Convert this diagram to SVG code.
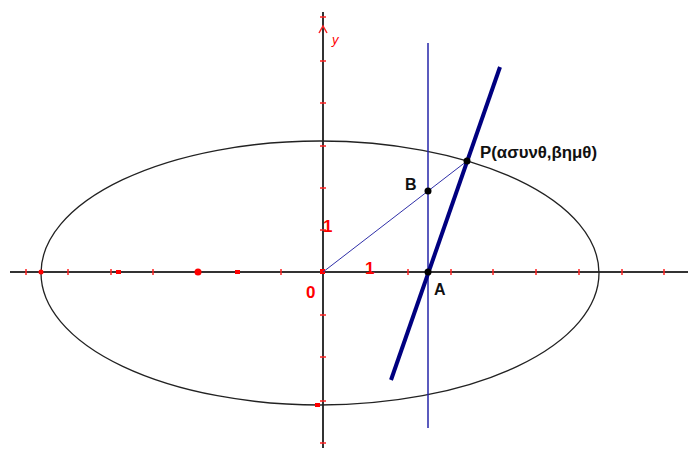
<svg xmlns="http://www.w3.org/2000/svg" width="688" height="459" viewBox="0 0 688 459">
<defs>
<style>
.axis{stroke:#333;stroke-width:2;fill:none}
.ell{stroke:#222;stroke-width:1.3;fill:none}
.tick{stroke:#f22;stroke-width:1.5}
.red{fill:#f00}
.lbl{font-family:"Liberation Sans",Arial,sans-serif;font-size:16px;font-weight:bold;fill:#111}
.rlbl{font-family:"Liberation Sans",Arial,sans-serif;font-size:17px;fill:#f00}
</style>
</defs>
<rect width="688" height="459" fill="#fff"/>
<g id="axes">
<line class="axis" x1="10" y1="272" x2="688" y2="272"/>
<line class="axis" x1="323" y1="12" x2="323" y2="448"/>
<g id="xticks">
<line class="tick" x1="26" y1="269" x2="26" y2="275"/>
<line class="tick" x1="68" y1="269" x2="68" y2="275"/>
<line class="tick" x1="111" y1="269" x2="111" y2="275"/>
<line class="tick" x1="153" y1="269" x2="153" y2="275"/>
<line class="tick" x1="281" y1="269" x2="281" y2="275"/>
<line class="tick" x1="408" y1="269" x2="408" y2="275"/>
<line class="tick" x1="451" y1="269" x2="451" y2="275"/>
<line class="tick" x1="493" y1="269" x2="493" y2="275"/>
<line class="tick" x1="536" y1="269" x2="536" y2="275"/>
<line class="tick" x1="579" y1="269" x2="579" y2="275"/>
<line class="tick" x1="622" y1="269" x2="622" y2="275"/>
<line class="tick" x1="664" y1="269" x2="664" y2="275"/>
</g>
<g id="yticks">
<line class="tick" x1="320" y1="17" x2="326" y2="17"/>
<line class="tick" x1="320" y1="61" x2="326" y2="61"/>
<line class="tick" x1="320" y1="103" x2="326" y2="103"/>
<line class="tick" x1="320" y1="146" x2="326" y2="146"/>
<line class="tick" x1="320" y1="188" x2="326" y2="188"/>
<line class="tick" x1="320" y1="230" x2="326" y2="230"/>
<line class="tick" x1="320" y1="315" x2="326" y2="315"/>
<line class="tick" x1="320" y1="357" x2="326" y2="357"/>
<line class="tick" x1="320" y1="401" x2="326" y2="401"/>
<line class="tick" x1="320" y1="443" x2="326" y2="443"/>
</g>
<path d="M319 33 L323 26 L327 33" stroke="#f22" stroke-width="1.5" fill="none"/>
<text x="332" y="44" font-family="Liberation Sans, Arial, sans-serif" font-size="13" fill="#f00" font-style="italic">y</text>
</g>
<g id="ellipse">
<ellipse class="ell" cx="320" cy="273" rx="279" ry="132"/>
</g>
<g id="reddots">
<rect class="red" x="320" y="269" width="5" height="5"/>
<rect class="red" x="116" y="270" width="5" height="4"/>
<rect class="red" x="235" y="270" width="5" height="4"/>
<circle class="red" cx="198" cy="272" r="3.5"/>
<circle class="red" cx="41" cy="272" r="2.5"/>
<rect class="red" x="315" y="403" width="5" height="4"/>
</g>
<g id="connectors">
<line x1="428" y1="43" x2="428" y2="428" stroke="#2424a8" stroke-width="1.5"/>
<line x1="323" y1="272" x2="467" y2="161" stroke="#3030a8" stroke-width="1"/>
<line x1="391" y1="380" x2="500" y2="67" stroke="#000080" stroke-width="4"/>
</g>
<g id="P">
<circle cx="467" cy="161" r="3.5" fill="#000"/>
<text class="lbl" x="480" y="158" font-size="15" textLength="117" lengthAdjust="spacingAndGlyphs">P(ασυνθ,βημθ)</text>
</g>
<g id="B">
<circle cx="428" cy="191" r="3.5" fill="#000"/>
<text class="lbl" x="405" y="190">B</text>
</g>
<g id="A">
<circle cx="428" cy="272" r="3.5" fill="#000"/>
<text class="lbl" x="434" y="295">A</text>
</g>
<g id="labels">
<text class="rlbl" x="306" y="298" font-weight="bold">0</text>
<text class="rlbl" x="323" y="232" font-weight="bold">1</text>
<text class="rlbl" x="365" y="274" font-size="16" font-weight="bold">1</text>
</g>
</svg>
